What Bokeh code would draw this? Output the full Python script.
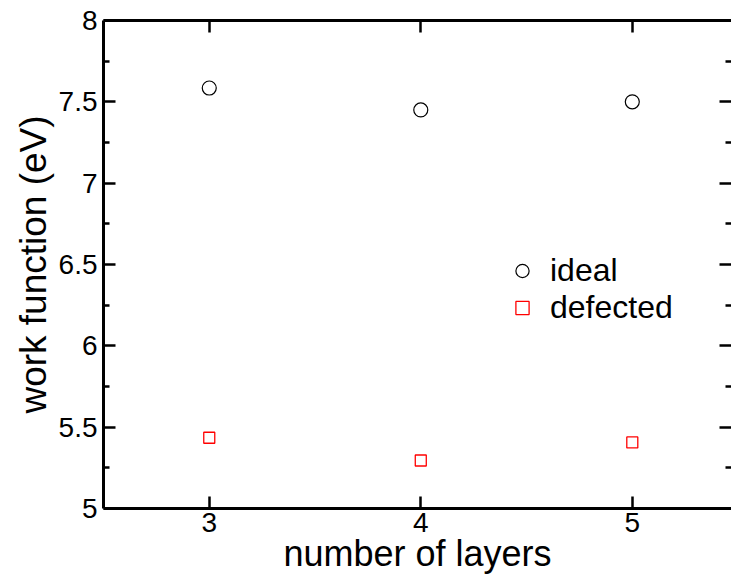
from bokeh.plotting import figure
from bokeh.models import FixedTicker, LinearAxis, Legend, LegendItem, Range1d
from bokeh.embed import file_html
from bokeh.resources import INLINE

# ---- data ----
layers = [3, 4, 5]
ideal = [7.585, 7.45, 7.50]
defected = [5.435, 5.295, 5.406]
x_ticks = [3, 4, 5]
y_ticks = [5, 5.5, 6, 6.5, 7, 7.5, 8]
y_tick_labels = ["5", "5.5", "6", "6.5", "7", "7.5", "8"]
y_minor = [5.25, 5.75, 6.25, 6.75, 7.25, 7.75]
x_title = "number of layers"
y_title = "work function (eV)"

FONT = "Liberation Sans"

p = figure(width=731, height=576, output_backend="svg", toolbar_location=None,
           x_range=Range1d(2.5, 5.469), y_range=Range1d(5, 8),
           x_axis_label=x_title, y_axis_label=y_title,
           min_border_left=103, min_border_right=0, min_border_top=20,
           min_border_bottom=68)
p.grid.visible = False
p.outline_line_color = None
p.background_fill_color = "white"
p.border_fill_color = "white"

xt = FixedTicker(ticks=x_ticks, minor_ticks=[])
yt = FixedTicker(ticks=y_ticks, minor_ticks=y_minor)
ylab = {t: l for t, l in zip(y_ticks, y_tick_labels)}


def style(ax):
    ax.axis_line_width = 3
    ax.axis_line_color = "black"
    ax.major_tick_in = 12
    ax.major_tick_out = 0
    ax.minor_tick_in = 6
    ax.minor_tick_out = 0
    ax.major_tick_line_width = 2.5
    ax.minor_tick_line_width = 2.5
    ax.major_tick_line_color = "black"
    ax.minor_tick_line_color = "black"
    ax.major_label_text_font = FONT
    ax.major_label_text_font_size = "28px"
    ax.major_label_text_color = "black"
    ax.axis_label_text_font = FONT
    ax.axis_label_text_font_size = "36px"
    ax.axis_label_text_font_style = "normal"
    ax.axis_label_text_color = "black"


xa = p.xaxis[0]
xa.ticker = xt
style(xa)
xa.major_label_standoff = 4
xa.axis_label_standoff = -2

ya = p.yaxis[0]
ya.ticker = yt
ya.major_label_overrides = ylab
style(ya)
ya.major_label_standoff = 6
ya.axis_label_standoff = 2
ya.axis_label_text_font_size = "37px"

top = LinearAxis(ticker=xt)
style(top)
top.major_label_overrides = {t: "" for t in x_ticks}
top.major_label_standoff = 0
p.add_layout(top, "above")

right = LinearAxis(ticker=yt)
style(right)
right.axis_line_color = None
right.major_label_overrides = {t: "" for t in y_ticks}
right.major_label_standoff = 0
p.add_layout(right, "right")

r1 = p.scatter(layers, ideal, marker="circle", size=14, fill_color=None,
               line_color="black", line_width=1.2)
r2 = p.scatter(layers, defected, marker="square", size=11, fill_color=None,
               line_color="red", line_width=1.3)

legend = Legend(items=[LegendItem(label="ideal", renderers=[r1]),
                       LegendItem(label="defected", renderers=[r2])],
                location=(402, 182), padding=0, margin=0, spacing=0,
                glyph_width=34, glyph_height=33, label_height=33,
                label_standoff=11, label_text_font=FONT,
                label_text_font_size="32px", label_text_color="black",
                border_line_color=None, background_fill_alpha=0)
p.add_layout(legend)

open("out.html", "w").write(file_html(p, INLINE))
